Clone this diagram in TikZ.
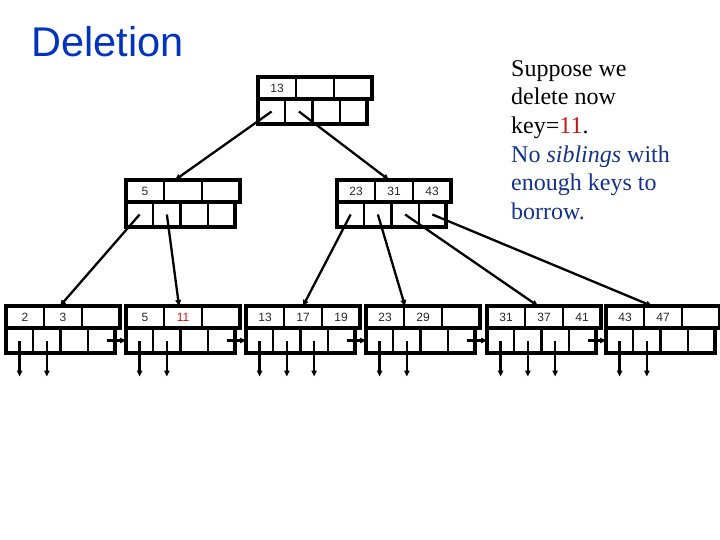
\documentclass[tikz,border=0pt]{standalone}
\usepackage{fontspec}
\setmainfont{Liberation Serif}
\newfontfamily\arialfont{Liberation Sans}
\usetikzlibrary{arrows.meta,calc}
\definecolor{titleblue}{RGB}{0,51,190}
\definecolor{textblue}{RGB}{20,50,140}
\definecolor{keyred}{RGB}{200,20,20}
\definecolor{keygray}{RGB}{40,40,40}
\tikzset{
  kc/.style={draw, line width=2.2pt, minimum width=38pt, minimum height=22pt, inner sep=0pt, outer sep=0pt, text=keygray, font=\arialfont\fontsize{12}{14}\selectfont},
  pc/.style={draw, line width=2.2pt, minimum width=27.25pt, minimum height=25pt, inner sep=0pt, outer sep=0pt},
  boxline/.style={line width=3.2pt},
  ptr/.style={line width=2.3pt, -{Triangle[length=6pt,width=5.5pt]}},
}
\newcommand\bpnode[6]{%
  \node[kc] (#1k1) at ({#2+19},{#3+11}) {#4};
  \node[kc] (#1k2) at ({#2+57},{#3+11}) {#5};
  \node[kc] (#1k3) at ({#2+95},{#3+11}) {#6};
  \node[pc] (#1p1) at ({#2+13.625},{#3+34.5}) {};
  \node[pc] (#1p2) at ({#2+40.875},{#3+34.5}) {};
  \node[pc] (#1p3) at ({#2+68.125},{#3+34.5}) {};
  \node[pc] (#1p4) at ({#2+95.375},{#3+34.5}) {};
  \draw[boxline] (#1k1.north west) rectangle (#1k3.south east);
  \draw[boxline] (#1p1.north west) rectangle (#1p4.south east);
}
\begin{document}
\begin{tikzpicture}[x=1pt,y=-1pt]
\useasboundingbox (0,0) rectangle (720,540);
\node[anchor=base west, inner sep=0pt, text=titleblue, font=\arialfont\fontsize{41.5}{48}\selectfont] (title) at (31,57) {Deletion};
\node[anchor=north west, inner sep=0pt, align=left, font=\fontsize{24}{28.7}\selectfont] (note) at (511,60)
  {Suppose we\\delete now\\key=\textcolor{keyred}{11}.\\\textcolor{textblue}{No \emph{siblings} with}\\\textcolor{textblue}{enough keys to}\\\textcolor{textblue}{borrow.}};
% tree nodes
\bpnode{R}{258}{77}{13}{}{}
\bpnode{IA}{126}{180}{5}{}{}
\bpnode{IB}{337}{180}{23}{31}{43}
\bpnode{LA}{6}{306}{2}{3}{}
\bpnode{LB}{126}{306}{5}{\textcolor{keyred}{11}}{}
\bpnode{LC}{246}{306}{13}{17}{19}
\bpnode{LD}{366}{306}{23}{29}{}
\bpnode{LE}{487}{306}{31}{37}{41}
\bpnode{LF}{606}{306}{43}{47}{}
% tree edges
\draw[ptr] (Rp1.center) -- ([xshift=49pt]IAk1.north west);
\draw[ptr] (Rp2.center) -- ([xshift=52pt]IBk1.north west);
\draw[ptr] (IAp1.center) -- ([xshift=54pt]LAk1.north west);
\draw[ptr] (IAp2.center) -- ([xshift=53pt]LBk1.north west);
\draw[ptr] (IBp1.center) -- ([xshift=57pt]LCk1.north west);
\draw[ptr] (IBp2.center) -- ([xshift=39pt]LDk1.north west);
\draw[ptr] (IBp3.center) -- ([xshift=51pt]LEk1.north west);
\draw[ptr] (IBp4.center) -- ([xshift=46pt]LFk1.north west);
% sibling pointers
\draw[ptr] ([xshift=6pt]LAp4.center) -- (LBp1.west);
\draw[ptr] ([xshift=6pt]LBp4.center) -- (LCp1.west);
\draw[ptr] ([xshift=6pt]LCp4.center) -- (LDp1.west);
\draw[ptr] ([xshift=6pt]LDp4.center) -- (LEp1.west);
\draw[ptr] ([xshift=6pt]LEp4.center) -- (LFp1.west);
% record pointers
\foreach \lf/\n in {LA/2,LB/2,LC/3,LD/2,LE/3,LF/2}{
  \foreach \i in {1,...,\n}{
    \coordinate (\lf d\i) at ([yshift=-36pt]\lf p\i.center);
    \draw[ptr] (\lf p\i.center) -- (\lf d\i);
  }
}
\end{tikzpicture}
\end{document}
